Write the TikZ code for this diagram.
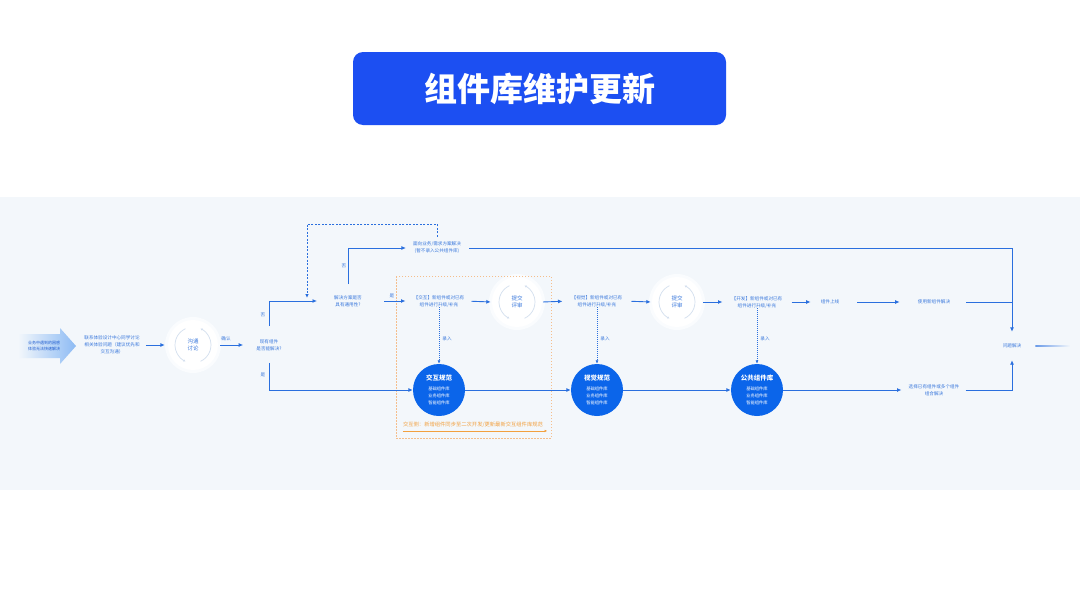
\documentclass[tikz,border=0pt]{standalone}
\usepackage{fontspec}
\setmainfont{Noto Sans CJK SC}
\usetikzlibrary{arrows.meta}
\definecolor{bandbg}{HTML}{F3F7FB}
\definecolor{titleblue}{HTML}{1C4FF2}
\definecolor{flowblue}{HTML}{2A6FDE}
\definecolor{txtblue}{HTML}{3A78DC}
\definecolor{darktxt}{HTML}{1E5CCF}
\definecolor{cblue}{HTML}{0B65EA}
\definecolor{arrowlight}{HTML}{8DBBF4}
\definecolor{orangeln}{HTML}{F5BE8C}
\definecolor{orangetx}{HTML}{F2A03F}
\definecolor{ringc}{HTML}{D3DFEE}
\definecolor{haloc}{HTML}{FAFCFE}
\tikzset{
  txt/.style={font=\fontsize{4.6}{7}\selectfont, text=txtblue, align=center, inner sep=0pt},
  lbl/.style={font=\fontsize{4.6}{6}\selectfont, text=txtblue, inner sep=0pt},
  flow/.style={draw=flowblue, line width=0.9pt, -{Latex[length=4.5pt,width=4pt]}},
  plainln/.style={draw=flowblue, line width=0.9pt},
  dotflow/.style={draw=flowblue, line width=0.7pt, dash pattern=on 0.8pt off 1.2pt, -{Latex[length=3.5pt,width=3pt]}},
  dashflow/.style={draw=flowblue, line width=0.8pt, dash pattern=on 2pt off 1.5pt, -{Latex[length=4pt,width=3.5pt]}},
  wcirc/.style={circle, fill=white, minimum size=50pt, inner sep=0pt, font=\fontsize{5.5}{7.5}\selectfont, text=txtblue, align=center},
  bcirc/.style={circle, fill=cblue, minimum size=52pt, inner sep=0pt, text=white, align=center, font=\fontsize{4.3}{7}\selectfont},
  ringst/.style={draw=ringc, line width=0.7pt, -{Latex[length=2pt,width=2.5pt]}},
}
\begin{document}
\begin{tikzpicture}[x=1pt,y=-1pt]
\useasboundingbox (0,0) rectangle (1080,608);
\fill[white] (0,0) rectangle (1080,608);
\fill[bandbg] (0,197) rectangle (1080,490);

% title
\node[fill=titleblue, rounded corners=10pt, minimum width=373pt, minimum height=73pt, text=white,
      font=\fontsize{33}{36}\selectfont\bfseries] (title) at (539.5,88.5) {组件库维护更新};

% left block arrow
\shade[left color=bandbg, right color=arrowlight]
  (18,334) -- (60,334) -- (60,328) -- (76,346) -- (60,364) -- (60,358) -- (18,358) -- cycle;
\node[txt, text=darktxt, font=\fontsize{4}{6.5}\selectfont] (prob) at (44,346) {业务中遇到的困惑\\体验无法快速解决};

% halos behind white circles
\foreach \p in {(193,345),(517,302),(677,302)}{
  \fill[haloc] \p circle[radius=28pt];
}

% text nodes
\node[txt] (contact) at (112,345) {联系体验设计中心同学讨论\\相关体验问题（建议优先和\\交互沟通）};
\node[wcirc] (talk) at (193,345) {沟通\\讨论};
\node[txt] (exist) at (269,345) {现有组件\\是否能解决?};
\node[txt] (general) at (348,301) {解决方案是否\\具有通用性?};
\node[txt] (business) at (437,248) {面向业务/需求方案解决\\(暂不录入公共组件库)};
\node[txt] (jh) at (439,301) {【交互】新组件或对已有\\组件进行升级/补充};
\node[wcirc] (rev1) at (517,302) {提交\\评审};
\node[txt] (sj) at (597,301) {【视觉】新组件或对已有\\组件进行升级/补充};
\node[wcirc] (rev2) at (677,302) {提交\\评审};
\node[txt] (kf) at (757,302) {【开发】新组件或对已有\\组件进行升级/补充};
\node[txt] (online) at (830,302) {组件上线};
\node[txt] (usenew) at (934,302) {使用新组件解决};
\node[txt, minimum height=28pt] (solve) at (1012,346) {问题解决};
\node[txt] (choose) at (934,390) {选择已有组件或多个组件\\组合解决};

% blue circles
\node[bcirc] (c1) at (439,390) {{\fontsize{6.5}{7}\selectfont\bfseries 交互规范}\\[3pt]基础组件库\\业务组件库\\智能组件库};
\node[bcirc] (c2) at (597,390) {{\fontsize{6.5}{7}\selectfont\bfseries 视觉规范}\\[3pt]基础组件库\\业务组件库\\智能组件库};
\node[bcirc] (c3) at (757,390) {{\fontsize{6.5}{7}\selectfont\bfseries 公共组件库}\\[3pt]基础组件库\\业务组件库\\智能组件库};

% rotating rings in white circles
\foreach \c in {talk,rev1,rev2}{
  \draw[ringst] (\c.center) ++(115:18pt) arc[start angle=115, end angle=245, radius=18pt];
  \draw[ringst] (\c.center) ++(295:18pt) arc[start angle=295, end angle=425, radius=18pt];
}

% orange dashed group
\draw[orangeln, line width=0.6pt, dash pattern=on 1.5pt off 1.5pt] (396,276) rectangle (551,438);
\node[font=\fontsize{5.3}{6}\selectfont, text=orangetx, inner sep=0pt] (note) at (473,425) {交互侧：新增组件同步至二次开发/更新最新交互组件库规范};
\draw[orangetx, line width=0.6pt, -{Latex[length=2.5pt,width=2.5pt]}] ([yshift=-3pt]note.south west) -- ([xshift=4pt,yshift=-3pt]note.south east);

% connectors
\draw[flow, shorten <=6pt, shorten >=3pt] (contact.east) -- (talk.west);
\draw[flow, shorten <=2pt, shorten >=13pt] (talk.east) -- (exist.west);
\node[lbl] (lconf) at (226,339) {确认};

\draw[flow, shorten <=13pt, shorten >=17pt] (exist.north) |- (general.west);
\node[lbl] (lno1) at (263,315) {否};
\draw[flow, shorten <=12pt] (exist.south) |- (c1.west);
\node[lbl] (lyes1) at (263,375) {是};

\coordinate (dtop) at (307,224);
\coordinate (dtip) at (307,298);
\draw[dashflow, shorten <=5pt] (business.north) |- (dtop) -- (dtip);

\draw[flow, shorten <=11pt, shorten >=7pt] (general.north) |- (business.west);
\node[lbl] (lno2) at (344,266) {否};
\draw[flow, shorten <=22pt, shorten >=8pt] (general.east) -- (jh.west);
\node[lbl] (lyes2) at (392,296) {是};

\draw[flow, shorten <=7pt, shorten >=1pt] (jh.east) -- (rev1.west);
\draw[flow, shorten <=1pt, shorten >=9pt] (rev1.east) -- (sj.west);
\draw[flow, shorten <=9pt, shorten >=1pt] (sj.east) -- (rev2.west);
\draw[flow, shorten <=1pt, shorten >=9pt] (rev2.east) -- (kf.west);
\draw[flow, shorten <=9pt, shorten >=10pt] (kf.east) -- (online.west);
\draw[flow, shorten <=18pt, shorten >=18pt] (online.east) -- (usenew.west);
\draw[plainln, shorten <=16pt] (usenew.east) -- (usenew.east -| solve.center);
\draw[flow, shorten <=8pt] (business.east) -| (solve.north);
\draw[flow, shorten <=6pt] (choose.east) -| (solve.south);

\draw[dotflow] (jh.south) -- (c1.north);
\draw[dotflow] (sj.south) -- (c2.north);
\draw[dotflow] (kf.south) -- (c3.north);
\node[lbl] (lin1) at (447,339) {录入};
\node[lbl] (lin2) at (605,339) {录入};
\node[lbl] (lin3) at (765,339) {录入};

\draw[flow] (c1.east) -- (c2.west);
\draw[flow] (c2.east) -- (c3.west);
\draw[flow, shorten >=7pt] (c3.east) -- (choose.west);

% fading exit line
\coordinate (exitend) at (1070,346);
\shade[left color=flowblue!70, right color=bandbg] ([xshift=14pt,yshift=0.5pt]solve.east) rectangle ([yshift=-0.5pt]exitend);
\end{tikzpicture}
\end{document}
